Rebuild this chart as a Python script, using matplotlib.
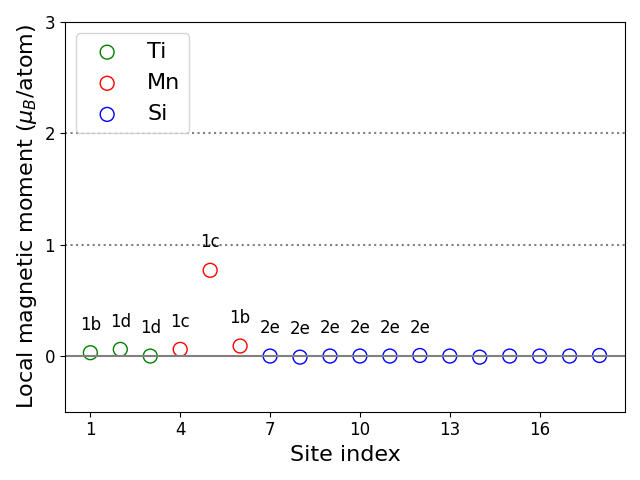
import numpy as np
import matplotlib
matplotlib.use("Agg")
import matplotlib.pyplot as plt

ti_sites = [1, 2, 3]
ti_moments = [0.03, 0.06, 0.00]
mn_sites = [4, 5, 6]
mn_moments = [0.06, 0.77, 0.09]
si_sites = list(range(7, 19))
si_moments = [0.0, -0.01, 0.0, 0.0, 0.0, 0.005, 0.0, -0.01, 0.0, 0.0, 0.0, 0.005]

wyckoff = ["1b", "1d", "1d", "1c", "1c", "1b", "2e", "2e", "2e", "2e", "2e", "2e"]

fig, ax = plt.subplots(figsize=(6.4, 4.8))
ax.axhline(0, color="grey", lw=1.5)
ax.axhline(1, color="grey", ls=":", lw=1.5)
ax.axhline(2, color="grey", ls=":", lw=1.5)

ax.scatter(ti_sites, ti_moments, s=100, facecolors="none", edgecolors="g", label="Ti")
ax.scatter(mn_sites, mn_moments, s=100, facecolors="none", edgecolors="r", label="Mn")
ax.scatter(si_sites, si_moments, s=100, facecolors="none", edgecolors="b", label="Si")

sites = ti_sites + mn_sites + si_sites
moments = ti_moments + mn_moments + si_moments
for i, lab in enumerate(wyckoff):
    ax.text(sites[i], moments[i] + 0.25, lab, ha="center", va="center", fontsize=12)

ax.set_ylim(-0.5, 3)
ax.set_yticks([0, 1, 2, 3])
ax.set_xticks([1, 4, 7, 10, 13, 16])
ax.tick_params(labelsize=12)
ax.set_xlabel("Site index", fontsize=16)
ax.set_ylabel(r"Local magnetic moment ($\mu_B$/atom)", fontsize=16)
ax.legend(fontsize=16, loc="upper left")
fig.tight_layout()
fig.savefig("out.png", dpi=100)
